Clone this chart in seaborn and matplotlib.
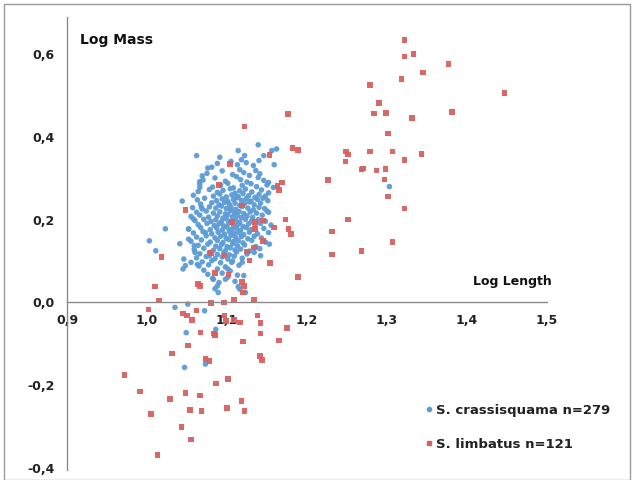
import matplotlib
matplotlib.use("Agg")
import matplotlib.pyplot as plt
import seaborn as sns
import pandas as pd
from matplotlib.patches import Rectangle
from matplotlib.lines import Line2D

# ---- data ----
crass_x = [1.088,1.105,1.113,1.118,1.124,1.133,1.140,
           1.075,1.094,1.107,1.116,1.121,1.128,1.136,1.141,
           1.070,1.085,1.098,1.112,1.117,1.125,1.139,1.146,
           1.066,1.082,1.092,1.101,1.108,1.119,1.130,1.137,1.150,1.158,
           1.064,1.078,1.088,1.095,1.104,1.110,1.116,1.123,1.131,1.143,1.152,
           1.058,1.083,1.091,1.099,1.106,1.114,1.120,1.127,1.135,1.140,1.148,
           1.063,1.072,1.087,1.094,1.101,1.108,1.112,1.118,1.124,1.130,1.138,1.145,1.151,
           1.067,1.081,1.090,1.097,1.103,1.110,1.116,1.122,1.128,1.134,1.142,
           1.057,1.069,1.078,1.086,1.093,1.099,1.105,1.111,1.119,1.126,1.133,1.140,1.147,
           1.062,1.074,1.083,1.091,1.098,1.104,1.109,1.115,1.121,1.129,1.137,1.150,
           1.055,1.066,1.077,1.088,1.095,1.101,1.107,1.113,1.118,1.125,1.132,1.144,
           1.060,1.071,1.080,1.086,1.093,1.099,1.105,1.111,1.116,1.123,1.131,1.139,1.148,
           1.064,1.075,1.084,1.090,1.096,1.102,1.108,1.114,1.120,1.127,1.135,1.142,1.155,
           1.052,1.067,1.079,1.087,1.094,1.100,1.106,1.112,1.117,1.124,1.130,1.146,
           1.058,1.070,1.081,1.089,1.097,1.103,1.109,1.115,1.121,1.128,1.138,1.152,
           1.062,1.074,1.085,1.092,1.099,1.105,1.111,1.118,1.126,1.134,1.143,
           1.055,1.068,1.079,1.088,1.095,1.102,1.108,1.114,1.120,1.131,1.148,
           1.064,1.076,1.086,1.093,1.100,1.107,1.113,1.122,1.136,
           1.059,1.071,1.083,1.091,1.098,1.104,1.110,1.117,1.128,1.141,
           1.066,1.078,1.088,1.096,1.103,1.112,1.125,
           1.062,1.074,1.085,1.094,1.101,1.109,1.119,
           1.069,1.081,1.092,1.107,
           1.065,1.077,1.098,1.115,
           1.071,1.088,1.104,
           1.076,1.094,1.113,
           1.082,1.101,
           1.090,1.110,
           1.085,1.114,
           1.003,1.011,1.023,1.044,1.041,1.046,1.048,1.045,1.052,1.052,1.062,1.055,1.059,1.058,
           1.060,1.063,1.066,1.068,1.069,1.076,1.081,1.091,1.066,1.073,1.078,1.083,1.088,1.089,
           1.098,1.101,1.106,1.119,1.121,1.116,1.123,1.035,1.051,1.072,1.049,1.086,1.047,1.073,
           1.114,1.122,1.139,1.146,1.156,1.162,1.159,1.303,1.152,1.152,1.153,1.142,1.134]
crass_y = [0.336,0.341,0.333,0.345,0.338,0.331,0.343,
           0.312,0.318,0.309,0.321,0.314,0.307,0.319,0.311,
           0.296,0.301,0.293,0.304,0.297,0.291,0.302,0.295,
           0.286,0.279,0.284,0.288,0.277,0.283,0.287,0.280,0.284,0.278,
           0.268,0.273,0.266,0.271,0.275,0.264,0.270,0.274,0.267,0.272,0.265,
           0.259,0.257,0.262,0.255,0.260,0.256,0.263,0.258,0.254,0.261,0.257,
           0.248,0.252,0.246,0.250,0.244,0.249,0.253,0.247,0.251,0.245,0.249,0.252,0.246,
           0.238,0.241,0.236,0.242,0.237,0.240,0.235,0.239,0.243,0.236,0.240,
           0.229,0.226,0.231,0.228,0.233,0.227,0.230,0.225,0.232,0.228,0.224,0.230,0.227,
           0.218,0.221,0.216,0.219,0.214,0.222,0.217,0.220,0.215,0.219,0.216,0.221,
           0.208,0.211,0.206,0.209,0.204,0.212,0.207,0.210,0.205,0.209,0.206,0.211,
           0.198,0.201,0.196,0.200,0.195,0.202,0.197,0.199,0.194,0.201,0.197,0.200,0.196,
           0.188,0.191,0.186,0.190,0.185,0.192,0.187,0.189,0.184,0.190,0.186,0.191,0.187,
           0.178,0.181,0.176,0.180,0.175,0.182,0.177,0.179,0.174,0.181,0.176,0.179,
           0.168,0.171,0.166,0.170,0.165,0.172,0.167,0.169,0.164,0.170,0.166,0.169,
           0.158,0.161,0.156,0.160,0.155,0.162,0.157,0.159,0.154,0.160,0.156,
           0.148,0.151,0.146,0.150,0.145,0.152,0.147,0.149,0.144,0.150,0.146,
           0.138,0.141,0.136,0.140,0.135,0.142,0.137,0.139,0.135,
           0.128,0.131,0.126,0.130,0.125,0.132,0.127,0.129,0.124,0.130,
           0.118,0.121,0.116,0.120,0.115,0.122,0.117,
           0.108,0.111,0.106,0.110,0.105,0.112,0.107,
           0.098,0.101,0.096,0.100,
           0.088,0.091,0.086,0.090,
           0.078,0.081,0.076,
           0.068,0.071,0.066,
           0.058,0.061,
           0.048,0.051,
           0.033,0.038,
           0.149,0.125,0.178,0.245,0.142,0.105,0.089,0.081,0.153,0.177,0.355,0.097,0.137,0.202,
           0.121,0.092,0.278,0.230,0.306,0.325,0.327,0.351,0.292,0.169,0.113,0.056,0.040,0.024,
           0.056,0.081,0.097,0.097,0.065,0.032,0.024,-0.012,-0.004,-0.020,-0.073,-0.065,-0.157,-0.149,
           0.367,0.355,0.381,0.355,0.367,0.371,0.333,0.280,0.290,0.218,0.141,0.113,0.121]

limb_x = [1.322,1.322,1.333,1.377,1.345,1.318,1.279,1.447,1.290,1.284,1.299,1.381,1.331,1.176,
          1.122,1.301,1.182,1.189,1.249,1.251,1.279,1.307,1.343,1.322,1.248,1.270,1.268,1.287,
          1.298,1.297,1.226,1.301,1.322,1.251,1.231,1.307,1.268,1.231,1.189,1.173,1.177,1.180,
          1.169,1.163,1.165,1.159,1.154,1.153,1.104,1.090,1.135,1.135,1.145,1.145,1.134,1.128,
          1.119,1.125,1.106,1.097,1.102,1.085,1.080,1.048,1.064,1.066,1.018,1.010,1.015,1.002,
          1.080,1.096,1.109,1.119,1.121,1.134,1.120,1.045,1.050,1.056,1.062,1.097,1.099,1.109,
          1.116,1.138,1.142,1.084,1.085,1.067,1.175,1.142,1.120,1.165,1.051,1.031,1.073,1.078,
          1.141,1.144,0.972,0.991,1.101,1.086,1.048,1.066,1.029,1.118,1.100,1.122,1.054,1.068,
          1.005,1.043,1.055,1.013]
limb_y = [0.635,0.594,0.600,0.577,0.556,0.540,0.526,0.506,0.482,0.457,0.458,0.461,0.446,0.456,
          0.425,0.408,0.373,0.369,0.365,0.358,0.365,0.365,0.359,0.345,0.341,0.324,0.321,0.319,
          0.322,0.297,0.296,0.256,0.227,0.201,0.172,0.146,0.125,0.116,0.061,0.201,0.177,0.166,
          0.290,0.281,0.272,0.181,0.095,0.356,0.334,0.284,0.177,0.194,0.198,0.149,0.133,0.101,
          0.234,0.123,0.194,0.113,0.068,0.071,0.119,0.223,0.044,0.040,0.110,0.039,0.005,-0.017,
          -0.001,0.000,0.006,0.050,0.040,0.006,0.024,-0.027,-0.032,-0.042,-0.019,-0.032,-0.045,-0.043,
          -0.048,-0.032,-0.050,-0.075,-0.079,-0.073,-0.062,-0.075,-0.094,-0.092,-0.104,-0.123,-0.137,-0.141,
          -0.129,-0.139,-0.176,-0.215,-0.185,-0.196,-0.219,-0.225,-0.234,-0.238,-0.255,-0.262,-0.260,-0.262,
          -0.270,-0.301,-0.331,-0.369]

species_labels = ["S. crassisquama n=279", "S. limbatus n=121"]
x_ticks = [0.9, 1.0, 1.1, 1.2, 1.3, 1.4, 1.5]
y_ticks = [-0.4, -0.2, 0.0, 0.2, 0.4, 0.6]

df = pd.concat([
    pd.DataFrame({"x": crass_x, "y": crass_y, "sp": species_labels[0]}),
    pd.DataFrame({"x": limb_x, "y": limb_y, "sp": species_labels[1]}),
], ignore_index=True)

sns.set_style("white")
plt.rcParams['font.family'] = ['DejaVu Sans']

BLUE = "#5b9bd5"
RED = "#d9605f"

fig = plt.figure(figsize=(6.36, 4.8), dpi=100)
ax = fig.add_axes([67/636, 10/480, 480/636, 453/480])

sns.scatterplot(data=df, x="x", y="y", hue="sp", style="sp",
                hue_order=species_labels, style_order=species_labels,
                palette={species_labels[0]: BLUE, species_labels[1]: RED},
                markers={species_labels[0]: "o", species_labels[1]: "s"},
                s=16, linewidth=0, alpha=0.95, ax=ax, legend=False)

ax.set_xlim(0.9, 1.5)
ax.set_ylim(-0.405, 0.69)
for s in ["top", "right"]:
    ax.spines[s].set_visible(False)
ax.spines["bottom"].set_position(("data", 0))
ax.spines["left"].set_position(("data", 0.9))
for s in ["bottom", "left"]:
    ax.spines[s].set_color("#8a8a8a")
    ax.spines[s].set_linewidth(1.0)

ax.set_xticks(x_ticks)
ax.set_yticks(y_ticks)
ax.set_xticklabels([f"{v:.1f}".replace(".", ",") for v in x_ticks])
ax.set_yticklabels([f"{v:.1f}".replace(".", ",") for v in y_ticks])
ax.tick_params(axis="both", which="both", direction="out", length=5, width=1,
               color="#8a8a8a", labelsize=9, pad=4)
ax.tick_params(axis="x", direction="inout", length=8)
for lbl in ax.get_xticklabels() + ax.get_yticklabels():
    lbl.set_fontweight("bold")
    lbl.set_color("#222222")
ax.set_xlabel("")
ax.set_ylabel("")

ax.text(80/636, 1 - 40/480, "Log Mass", transform=fig.transFigure,
        fontsize=10, fontweight="bold", color="#111111", va="center", ha="left")
ax.text(473/636, 1 - 281/480, "Log Length", transform=fig.transFigure,
        fontsize=9, fontweight="bold", color="#111111", va="center", ha="left")

handles = [Line2D([], [], marker="o", color=BLUE, linestyle="", markersize=3),
           Line2D([], [], marker="s", color=RED, linestyle="", markersize=3)]
ax.legend(handles, species_labels, loc="upper left",
          bbox_to_anchor=(420/636, 1 - 397/480), bbox_transform=fig.transFigure,
          frameon=False, fontsize=9.5, handlelength=0.4, handletextpad=0.3,
          labelspacing=1.6, borderpad=0)
for t in ax.get_legend().get_texts():
    t.set_fontweight("bold")
    t.set_color("#222222")

fig.patches.append(Rectangle((4/636, 0), 626/636, 1 - 4/480, transform=fig.transFigure,
                             fill=False, edgecolor="#9a9a9a", linewidth=1.0))

fig.savefig("out.png", dpi=100)
